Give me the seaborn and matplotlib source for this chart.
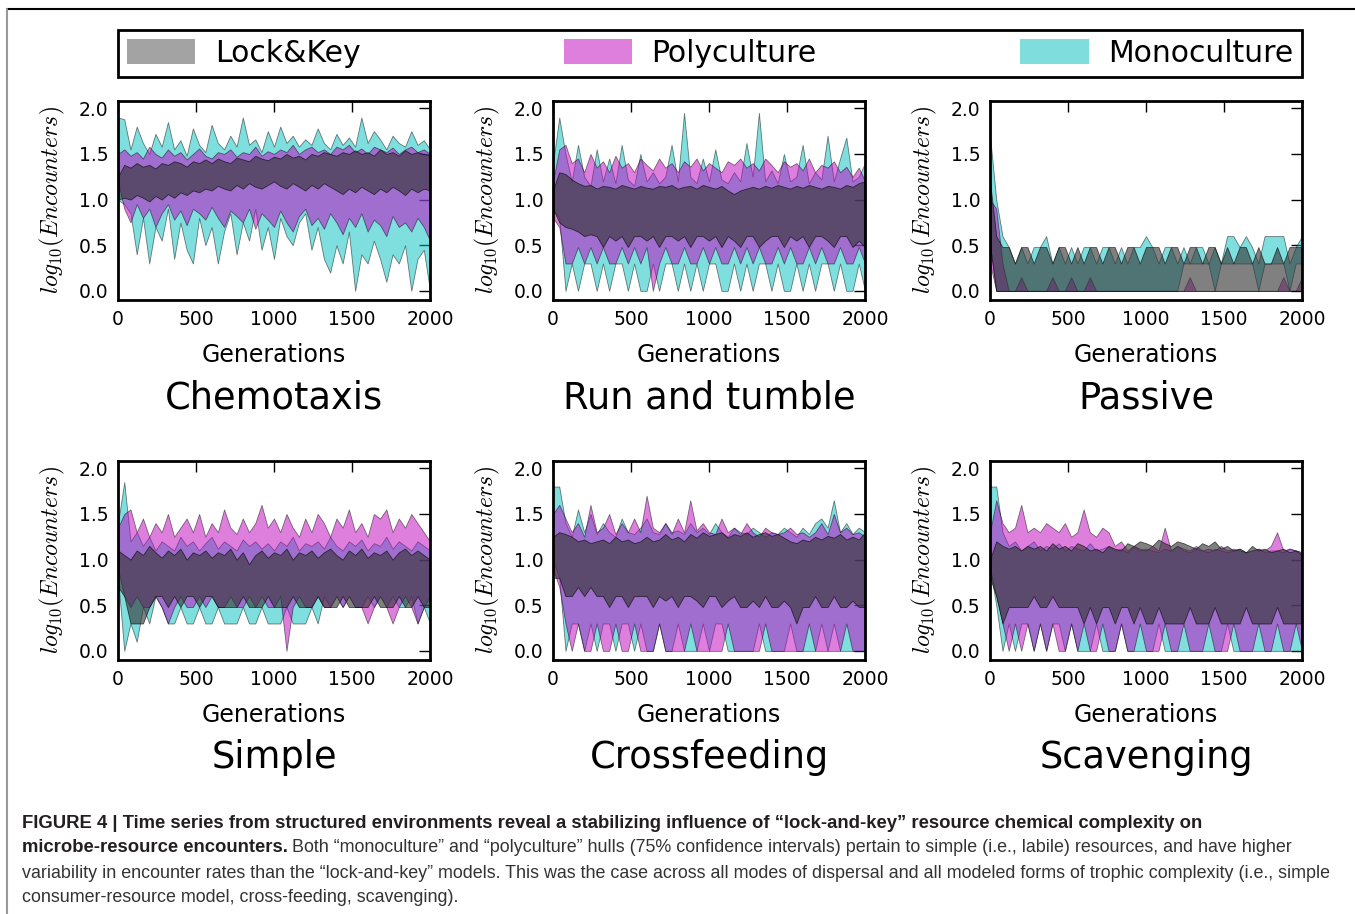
# ------------------- Imports -------------------
import numpy as np
import pandas as pd
import seaborn as sns
import matplotlib.pyplot as plt
from matplotlib.patches import Patch
from matplotlib.lines import Line2D

# ------------------- Data (every 40 generations) -------------------
gens = list(range(0, 2001, 40))

# Chemotaxis
chemo_mono_hi = [1.90,1.88,1.55,1.80,1.62,1.50,1.72,1.58,1.85,1.55,1.65,1.48,1.78,1.60,1.52,1.82,1.62,1.55,1.70,1.58,1.90,1.60,1.66,1.52,1.75,1.58,1.80,1.62,1.70,1.58,1.66,1.60,1.78,1.62,1.55,1.72,1.60,1.68,1.58,1.90,1.62,1.75,1.66,1.55,1.70,1.62,1.58,1.75,1.60,1.65,1.55]
chemo_mono_lo = [1.00,0.95,0.85,0.40,0.80,0.30,0.70,0.55,0.90,0.35,0.75,0.45,0.30,0.80,0.50,0.70,0.30,0.65,0.85,0.40,0.75,0.55,0.90,0.45,0.70,0.35,0.80,0.60,0.50,0.75,0.85,0.45,0.70,0.35,0.20,0.50,0.30,0.65,0.00,0.40,0.30,0.55,0.35,0.10,0.40,0.30,0.50,0.00,0.35,0.45,0.00]
chemo_poly_hi = [1.50,1.55,1.48,1.52,1.45,1.58,1.50,1.46,1.55,1.48,1.52,1.44,1.50,1.56,1.48,1.45,1.52,1.50,1.55,1.47,1.52,1.50,1.58,1.48,1.53,1.50,1.55,1.52,1.60,1.50,1.55,1.58,1.52,1.55,1.50,1.58,1.55,1.60,1.52,1.56,1.50,1.58,1.55,1.52,1.57,1.50,1.55,1.58,1.52,1.55,1.50]
chemo_poly_lo = [1.20,0.90,0.75,0.95,0.80,0.90,0.70,0.85,0.95,0.78,0.88,0.72,0.90,0.85,0.78,0.92,0.80,0.70,0.88,0.82,0.75,0.90,0.68,0.85,0.78,0.70,0.88,0.75,0.65,0.82,0.90,0.72,0.80,0.68,0.85,0.75,0.62,0.80,0.70,0.85,0.65,0.78,0.72,0.60,0.82,0.70,0.75,0.65,0.80,0.70,0.55]
chemo_lk_hi = [1.25,1.38,1.35,1.40,1.36,1.38,1.34,1.40,1.38,1.42,1.40,1.36,1.42,1.40,1.44,1.40,1.45,1.42,1.40,1.46,1.44,1.42,1.48,1.45,1.43,1.47,1.45,1.50,1.46,1.48,1.44,1.50,1.48,1.52,1.50,1.48,1.52,1.50,1.54,1.50,1.52,1.48,1.55,1.50,1.52,1.48,1.54,1.50,1.52,1.50,1.48]
chemo_lk_lo = [1.00,1.02,1.00,1.05,1.02,0.98,1.04,1.00,1.06,1.02,1.08,1.05,1.10,1.08,1.12,1.10,1.15,1.12,1.10,1.16,1.12,1.18,1.14,1.12,1.16,1.20,1.15,1.12,1.18,1.14,1.10,1.16,1.12,1.18,1.14,1.10,1.06,1.12,1.08,1.14,1.10,1.06,1.12,1.08,1.14,1.10,1.05,1.12,1.08,1.12,1.10]

# Run and tumble
rt_mono_hi = [1.40,1.90,1.50,1.20,1.60,1.25,1.15,1.55,1.20,1.45,1.18,1.60,1.22,1.15,1.50,1.20,1.30,1.18,1.25,1.60,1.20,1.95,1.25,1.18,1.45,1.20,1.55,1.22,1.18,1.30,1.20,1.62,1.25,1.95,1.20,1.32,1.18,1.50,1.20,1.25,1.60,1.18,1.30,1.22,1.70,1.20,1.45,1.68,1.20,1.25,1.40]
rt_mono_lo = [0.90,0.80,0.00,0.30,0.00,0.30,0.30,0.00,0.30,0.00,0.30,0.30,0.00,0.30,0.00,0.00,0.30,0.00,0.30,0.30,0.00,0.30,0.00,0.30,0.00,0.30,0.30,0.00,0.00,0.30,0.00,0.30,0.00,0.30,0.30,0.00,0.30,0.00,0.00,0.30,0.00,0.30,0.00,0.30,0.30,0.00,0.30,0.00,0.00,0.30,0.00]
rt_poly_hi = [1.20,1.55,1.60,1.40,1.45,1.30,1.50,1.35,1.42,1.30,1.48,1.35,1.40,1.30,1.45,1.38,1.32,1.45,1.35,1.40,1.30,1.42,1.36,1.45,1.32,1.40,1.35,1.30,1.42,1.38,1.45,1.35,1.40,1.32,1.45,1.38,1.30,1.42,1.36,1.40,1.32,1.45,1.30,1.38,1.35,1.42,1.30,1.36,1.25,1.35,1.20]
rt_poly_lo = [0.80,0.70,0.30,0.30,0.48,0.30,0.48,0.30,0.48,0.30,0.30,0.48,0.30,0.48,0.30,0.48,0.00,0.30,0.48,0.30,0.30,0.48,0.30,0.30,0.48,0.30,0.48,0.30,0.30,0.48,0.30,0.48,0.30,0.48,0.30,0.30,0.48,0.30,0.48,0.30,0.30,0.48,0.30,0.48,0.30,0.30,0.48,0.30,0.30,0.48,0.30]
rt_lk_hi = [1.10,1.30,1.28,1.22,1.18,1.15,1.16,1.12,1.15,1.14,1.12,1.16,1.14,1.12,1.15,1.13,1.12,1.15,1.14,1.16,1.12,1.14,1.15,1.12,1.16,1.14,1.12,1.15,1.10,1.06,1.10,1.12,1.14,1.12,1.15,1.13,1.16,1.14,1.12,1.15,1.13,1.16,1.14,1.12,1.15,1.14,1.12,1.16,1.14,1.18,1.20]
rt_lk_lo = [0.90,0.75,0.70,0.68,0.65,0.60,0.62,0.60,0.48,0.60,0.55,0.60,0.48,0.60,0.60,0.55,0.60,0.48,0.60,0.60,0.55,0.60,0.48,0.60,0.60,0.55,0.60,0.48,0.60,0.55,0.48,0.60,0.60,0.48,0.55,0.60,0.60,0.48,0.60,0.55,0.60,0.48,0.60,0.60,0.55,0.48,0.60,0.60,0.48,0.55,0.48]

# Passive
pas_mono_hi = [1.70,1.00,0.60,0.48,0.30,0.48,0.30,0.48,0.48,0.60,0.30,0.48,0.30,0.48,0.30,0.48,0.48,0.30,0.48,0.48,0.30,0.48,0.30,0.48,0.48,0.60,0.48,0.30,0.48,0.48,0.30,0.48,0.30,0.48,0.48,0.30,0.48,0.30,0.60,0.60,0.48,0.60,0.48,0.30,0.60,0.60,0.60,0.60,0.30,0.48,0.60]
pas_mono_lo = [0.50,0.00,0.00,0.00,0.00,0.00,0.00,0.00,0.00,0.00,0.00,0.00,0.00,0.00,0.00,0.00,0.00,0.00,0.00,0.00,0.00,0.00,0.00,0.00,0.00,0.00,0.00,0.00,0.00,0.00,0.00,0.30,0.30,0.30,0.30,0.30,0.00,0.30,0.30,0.30,0.30,0.30,0.30,0.00,0.30,0.30,0.30,0.30,0.00,0.30,0.30]
pas_poly_hi = [1.00,0.90,0.30,0.00,0.00,0.15,0.00,0.00,0.00,0.00,0.15,0.00,0.00,0.15,0.00,0.00,0.15,0.00,0.00,0.00,0.00,0.00,0.00,0.00,0.00,0.00,0.00,0.00,0.00,0.00,0.00,0.00,0.15,0.00,0.00,0.00,0.00,0.00,0.00,0.00,0.00,0.00,0.00,0.00,0.00,0.00,0.00,0.15,0.00,0.00,0.15]
pas_poly_lo = [0.30,0.00,0.00,0.00,0.00,0.00,0.00,0.00,0.00,0.00,0.00,0.00,0.00,0.00,0.00,0.00,0.00,0.00,0.00,0.00,0.00,0.00,0.00,0.00,0.00,0.00,0.00,0.00,0.00,0.00,0.00,0.00,0.00,0.00,0.00,0.00,0.00,0.00,0.00,0.00,0.00,0.00,0.00,0.00,0.00,0.00,0.00,0.00,0.00,0.00,0.00]
pas_lk_hi = [1.20,0.60,0.48,0.48,0.30,0.48,0.48,0.30,0.48,0.48,0.30,0.48,0.48,0.30,0.48,0.30,0.48,0.48,0.30,0.48,0.48,0.30,0.48,0.48,0.30,0.48,0.48,0.48,0.30,0.48,0.48,0.30,0.48,0.48,0.30,0.48,0.48,0.30,0.48,0.30,0.48,0.48,0.30,0.48,0.30,0.30,0.48,0.30,0.48,0.48,0.48]
pas_lk_lo = [0.50,0.00,0.00,0.00,0.00,0.00,0.00,0.00,0.00,0.00,0.00,0.00,0.00,0.00,0.00,0.00,0.00,0.00,0.00,0.00,0.00,0.00,0.00,0.00,0.00,0.00,0.00,0.00,0.00,0.00,0.00,0.00,0.00,0.00,0.00,0.00,0.00,0.00,0.00,0.00,0.00,0.00,0.00,0.00,0.00,0.00,0.00,0.00,0.00,0.00,0.00]

# Simple
sim_mono_hi = [1.40,1.85,1.20,1.30,1.15,1.25,1.10,1.20,1.15,1.10,1.25,1.15,1.20,1.10,1.18,1.25,1.12,1.20,1.15,1.10,1.22,1.15,1.20,1.12,1.18,1.10,1.20,1.15,1.25,1.10,1.18,1.15,1.20,1.12,1.25,1.15,1.10,1.20,1.15,1.22,1.10,1.18,1.15,1.25,1.12,1.20,1.15,1.10,1.20,1.15,1.10]
sim_mono_lo = [0.80,0.00,0.30,0.10,0.48,0.30,0.60,0.48,0.30,0.30,0.48,0.30,0.30,0.48,0.30,0.30,0.48,0.30,0.30,0.30,0.48,0.30,0.30,0.48,0.30,0.30,0.30,0.48,0.30,0.30,0.30,0.48,0.30,0.60,0.48,0.60,0.48,0.60,0.48,0.48,0.60,0.48,0.60,0.48,0.60,0.48,0.48,0.60,0.30,0.48,0.30]
sim_poly_hi = [1.35,1.50,1.55,1.30,1.45,1.25,1.40,1.30,1.50,1.25,1.35,1.45,1.30,1.50,1.25,1.40,1.30,1.55,1.35,1.28,1.45,1.30,1.40,1.60,1.35,1.45,1.30,1.50,1.35,1.25,1.45,1.30,1.50,1.40,1.25,1.45,1.35,1.55,1.30,1.40,1.25,1.50,1.45,1.55,1.30,1.45,1.35,1.50,1.40,1.30,1.20]
sim_poly_lo = [0.90,0.60,0.48,0.60,0.48,0.48,0.60,0.48,0.30,0.48,0.60,0.48,0.48,0.60,0.48,0.60,0.48,0.48,0.60,0.48,0.48,0.60,0.48,0.60,0.48,0.48,0.60,0.00,0.48,0.60,0.48,0.48,0.60,0.48,0.48,0.60,0.48,0.60,0.48,0.48,0.30,0.48,0.60,0.48,0.30,0.48,0.60,0.48,0.30,0.48,0.60]
sim_lk_hi = [1.10,1.05,1.00,1.10,1.05,1.15,1.08,1.02,1.10,1.05,1.12,1.00,1.08,1.05,1.10,1.02,1.08,1.05,1.12,1.00,1.08,0.95,1.05,1.10,1.02,1.08,1.05,1.12,1.00,1.08,1.05,1.10,1.02,1.08,1.12,1.05,1.00,1.10,1.05,1.12,1.02,1.08,1.05,1.10,1.00,1.08,1.12,1.05,1.10,1.05,1.00]
sim_lk_lo = [0.70,0.60,0.30,0.30,0.30,0.48,0.60,0.60,0.48,0.60,0.48,0.60,0.60,0.48,0.60,0.60,0.48,0.48,0.48,0.48,0.60,0.48,0.48,0.48,0.60,0.48,0.48,0.48,0.60,0.48,0.48,0.48,0.60,0.48,0.48,0.48,0.60,0.48,0.48,0.48,0.48,0.60,0.48,0.48,0.48,0.60,0.48,0.48,0.60,0.48,0.48]

# Crossfeeding
cf_mono_hi = [1.80,1.80,1.40,1.25,1.55,1.30,1.50,1.28,1.40,1.30,1.25,1.45,1.30,1.28,1.35,1.45,1.30,1.28,1.40,1.30,1.32,1.28,1.40,1.30,1.35,1.28,1.40,1.30,1.25,1.35,1.30,1.28,1.35,1.30,1.25,1.30,1.28,1.35,1.30,1.25,1.35,1.28,1.40,1.45,1.35,1.65,1.30,1.40,1.28,1.35,1.30]
cf_mono_lo = [1.00,0.80,0.00,0.30,0.30,0.00,0.30,0.00,0.30,0.30,0.00,0.30,0.30,0.00,0.30,0.00,0.00,0.30,0.00,0.00,0.30,0.00,0.00,0.00,0.30,0.00,0.30,0.30,0.00,0.00,0.00,0.00,0.00,0.30,0.00,0.00,0.00,0.00,0.30,0.00,0.00,0.00,0.00,0.30,0.00,0.30,0.00,0.00,0.00,0.00,0.00]
cf_poly_hi = [1.50,1.60,1.45,1.30,1.40,1.25,1.60,1.30,1.35,1.50,1.28,1.40,1.30,1.45,1.30,1.70,1.35,1.30,1.40,1.28,1.45,1.30,1.65,1.32,1.40,1.30,1.28,1.45,1.30,1.35,1.28,1.40,1.30,1.25,1.35,1.30,1.28,1.30,1.35,1.28,1.30,1.25,1.30,1.40,1.28,1.50,1.30,1.35,1.28,1.30,1.25]
cf_poly_lo = [0.90,0.70,0.30,0.00,0.30,0.00,0.00,0.30,0.00,0.00,0.30,0.00,0.00,0.30,0.00,0.00,0.00,0.30,0.00,0.00,0.00,0.00,0.30,0.00,0.00,0.00,0.00,0.00,0.30,0.00,0.00,0.00,0.00,0.00,0.30,0.00,0.00,0.00,0.00,0.00,0.00,0.30,0.00,0.00,0.00,0.00,0.00,0.30,0.00,0.00,0.00]
cf_lk_hi = [1.25,1.30,1.28,1.25,1.20,1.22,1.18,1.20,1.22,1.18,1.25,1.20,1.22,1.18,1.20,1.25,1.20,1.22,1.28,1.22,1.25,1.20,1.28,1.24,1.30,1.26,1.28,1.30,1.24,1.28,1.26,1.30,1.25,1.28,1.30,1.26,1.28,1.24,1.20,1.18,1.22,1.20,1.25,1.22,1.26,1.24,1.28,1.22,1.25,1.22,1.30]
cf_lk_lo = [0.80,0.80,0.60,0.60,0.70,0.60,0.70,0.60,0.60,0.48,0.60,0.60,0.48,0.60,0.60,0.60,0.48,0.60,0.55,0.60,0.48,0.60,0.60,0.55,0.48,0.60,0.60,0.48,0.55,0.60,0.48,0.48,0.55,0.48,0.60,0.48,0.48,0.55,0.48,0.30,0.48,0.48,0.60,0.48,0.48,0.60,0.48,0.48,0.55,0.48,0.48]

# Scavenging
sc_mono_hi = [1.80,1.80,1.30,1.15,1.20,1.10,1.15,1.20,1.10,1.15,1.12,1.18,1.10,1.15,1.12,1.10,1.18,1.10,1.12,1.15,1.10,1.12,1.08,1.15,1.10,1.12,1.10,1.08,1.12,1.10,1.15,1.10,1.08,1.12,1.10,1.08,1.12,1.10,1.08,1.10,1.12,1.08,1.10,1.12,1.08,1.10,1.10,1.08,1.12,1.10,1.08]
sc_mono_lo = [0.90,0.50,0.00,0.30,0.00,0.30,0.30,0.00,0.30,0.00,0.30,0.30,0.00,0.30,0.00,0.00,0.00,0.30,0.00,0.00,0.00,0.30,0.00,0.00,0.00,0.00,0.00,0.30,0.00,0.00,0.00,0.00,0.00,0.00,0.00,0.00,0.00,0.00,0.30,0.00,0.00,0.00,0.00,0.00,0.00,0.00,0.00,0.00,0.00,0.00,0.00]
sc_poly_hi = [1.30,1.65,1.40,1.30,1.35,1.60,1.30,1.35,1.30,1.40,1.35,1.30,1.40,1.25,1.30,1.55,1.30,1.25,1.35,1.30,1.15,1.20,1.10,1.15,1.12,1.10,1.15,1.10,1.35,1.10,1.15,1.12,1.10,1.15,1.10,1.12,1.10,1.15,1.10,1.12,1.10,1.08,1.10,1.12,1.10,1.15,1.30,1.10,1.12,1.10,1.08]
sc_poly_lo = [0.90,0.60,0.30,0.00,0.30,0.00,0.30,0.00,0.30,0.00,0.30,0.00,0.00,0.30,0.00,0.30,0.00,0.00,0.30,0.00,0.00,0.30,0.00,0.00,0.30,0.00,0.00,0.00,0.30,0.00,0.00,0.30,0.00,0.00,0.00,0.30,0.00,0.00,0.00,0.30,0.00,0.00,0.00,0.30,0.00,0.00,0.30,0.00,0.00,0.30,0.00]
sc_lk_hi = [1.00,1.20,1.15,1.12,1.15,1.10,1.15,1.12,1.15,1.10,1.18,1.12,1.15,1.10,1.18,1.15,1.10,1.12,1.08,1.15,1.12,1.10,1.18,1.15,1.20,1.18,1.15,1.22,1.18,1.15,1.20,1.18,1.15,1.12,1.18,1.15,1.20,1.12,1.15,1.10,1.12,1.08,1.15,1.10,1.12,1.08,1.10,1.12,1.08,1.10,1.05]
sc_lk_lo = [0.80,0.60,0.30,0.48,0.48,0.48,0.48,0.60,0.48,0.48,0.60,0.48,0.48,0.48,0.48,0.30,0.48,0.30,0.48,0.48,0.30,0.48,0.48,0.30,0.48,0.30,0.30,0.48,0.30,0.30,0.30,0.30,0.48,0.30,0.30,0.30,0.48,0.30,0.30,0.30,0.30,0.48,0.30,0.30,0.30,0.30,0.48,0.30,0.30,0.30,0.30]

panel_names = ["Chemotaxis", "Run and tumble", "Passive", "Simple", "Crossfeeding", "Scavenging"]
series_names = ["Monoculture", "Polyculture", "Lock&Key"]

hulls = {
    "Chemotaxis": [(chemo_mono_lo, chemo_mono_hi), (chemo_poly_lo, chemo_poly_hi), (chemo_lk_lo, chemo_lk_hi)],
    "Run and tumble": [(rt_mono_lo, rt_mono_hi), (rt_poly_lo, rt_poly_hi), (rt_lk_lo, rt_lk_hi)],
    "Passive": [(pas_mono_lo, pas_mono_hi), (pas_poly_lo, pas_poly_hi), (pas_lk_lo, pas_lk_hi)],
    "Simple": [(sim_mono_lo, sim_mono_hi), (sim_poly_lo, sim_poly_hi), (sim_lk_lo, sim_lk_hi)],
    "Crossfeeding": [(cf_mono_lo, cf_mono_hi), (cf_poly_lo, cf_poly_hi), (cf_lk_lo, cf_lk_hi)],
    "Scavenging": [(sc_mono_lo, sc_mono_hi), (sc_poly_lo, sc_poly_hi), (sc_lk_lo, sc_lk_hi)],
}

# long table
rows = []
for p in panel_names:
    for s, (lo, hi) in zip(series_names, hulls[p]):
        for g, l, h in zip(gens, lo, hi):
            rows.append((p, s, g, l, h))
df = pd.DataFrame(rows, columns=["panel", "series", "gen", "lo", "hi"])

# ------------------- Style -------------------
sns.set_style("white")
plt.rcParams['font.family'] = ['DejaVu Sans']
plt.rcParams['mathtext.fontset'] = 'cm'
for k in ['text.color', 'axes.labelcolor', 'xtick.color', 'ytick.color']:
    plt.rcParams[k] = 'k'

fill_colors = {"Monoculture": "#00BFBF", "Polyculture": "#BF00BF", "Lock&Key": "#333333"}
fill_alpha = {"Monoculture": 0.5, "Polyculture": 0.5, "Lock&Key": 0.62}
legend_colors = {"Lock&Key": "#A3A3A3", "Polyculture": "#DE7FDE", "Monoculture": "#7FDDDD"}

fig = plt.figure(figsize=(13.55, 9.14), dpi=100)

W, H = 1355, 914
lefts = [118, 553, 990]
tops = [101, 461]
aw, ah = 312, 199

for i, p in enumerate(panel_names):
    r, c = divmod(i, 3)
    ax = fig.add_axes([lefts[c] / W, 1 - (tops[r] + ah) / H, aw / W, ah / H])
    sub = df[df.panel == p]
    for s in series_names:
        d = sub[sub.series == s]
        ax.fill_between(d.gen, d.lo, d.hi, facecolor=fill_colors[s], alpha=fill_alpha[s],
                        edgecolor="k", linewidth=0.6)
    ax.set_xlim(0, 2000)
    ax.set_ylim(-0.1, 2.08)
    ax.set_xticks([0, 500, 1000, 1500, 2000])
    ax.set_yticks([0.0, 0.5, 1.0, 1.5, 2.0])
    ax.set_yticklabels(["0.0", "0.5", "1.0", "1.5", "2.0"])
    ax.tick_params(direction="in", length=8, width=1, top=True, right=True,
                   labelsize=13.5, pad=7, colors="k")
    for sp in ax.spines.values():
        sp.set_linewidth(2)
        sp.set_color("k")
    ax.set_xlabel("Generations", fontsize=17)
    ax.xaxis.set_label_coords(0.5, -0.215)
    ax.set_ylabel(r"$log_{10}(Encounters)$", fontsize=17)
    ax.yaxis.set_label_coords(-0.165, 0.5)
    ax.text(0.5, -0.49, p, transform=ax.transAxes, ha="center", va="center", fontsize=26.5)

# legend
handles = [Patch(facecolor=legend_colors[n], edgecolor="none") for n in ["Lock&Key", "Polyculture", "Monoculture"]]
leg = fig.legend(handles, ["Lock&Key", "Polyculture", "Monoculture"], ncol=3,
                 loc="center", bbox_to_anchor=(710 / W, 1 - 53.5 / H),
                 fontsize=21.5, handlelength=2.3, handleheight=0.9, handletextpad=0.65,
                 columnspacing=6.8, borderpad=0.3, fancybox=False, framealpha=1)
leg.get_frame().set_edgecolor("k")
leg.get_frame().set_linewidth(2)

# frame lines
fig.add_artist(Line2D([7 / W, 1.0], [1 - 9 / H, 1 - 9 / H], color="k", lw=1.5))
fig.add_artist(Line2D([7.5 / W, 7.5 / W], [0, 1 - 9 / H], color="#999999", lw=1.5))

# caption
cap_font = ['Liberation Sans', 'DejaVu Sans']
x0 = 22 / W
fig.text(x0, 1 - 823 / H, "FIGURE 4 | Time series from structured environments reveal a stabilizing influence of \u201clock-and-key\u201d resource chemical complexity on",
         fontsize=13.3, fontweight="bold", family=cap_font, color="#231f20", va="center")
b = fig.text(x0, 1 - 848 / H, "microbe-resource encounters.", fontsize=13.3, fontweight="bold",
             family=cap_font, color="#231f20", va="center")
fig.canvas.draw()
bb = b.get_window_extent().transformed(fig.transFigure.inverted())
fig.text(bb.x1 + 4 / W, 1 - 848 / H, "Both \u201cmonoculture\u201d and \u201cpolyculture\u201d hulls (75% confidence intervals) pertain to simple (i.e., labile) resources, and have higher",
         fontsize=12.9, family=cap_font, color="#333333", va="center")
fig.text(x0, 1 - 873 / H, "variability in encounter rates than the \u201clock-and-key\u201d models. This was the case across all modes of dispersal and all modeled forms of trophic complexity (i.e., simple",
         fontsize=12.9, family=cap_font, color="#333333", va="center")
fig.text(x0, 1 - 898 / H, "consumer-resource model, cross-feeding, scavenging).",
         fontsize=12.9, family=cap_font, color="#333333", va="center")

fig.savefig("out.png", dpi=100)
